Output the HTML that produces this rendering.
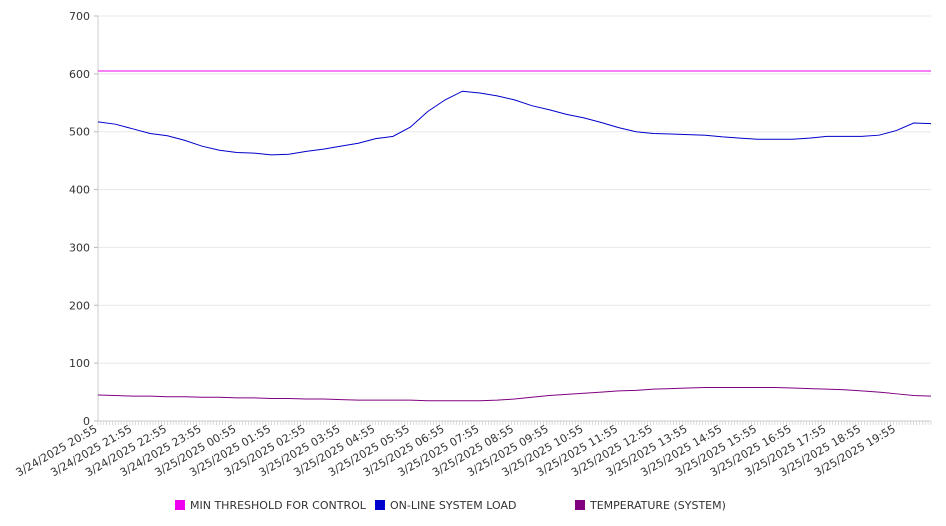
<!DOCTYPE html>
<html><head><meta charset="utf-8"><style>
html,body{margin:0;padding:0;background:#fff;width:946px;height:526px;overflow:hidden}
svg{display:block;font-family:"DejaVu Sans","Liberation Sans",sans-serif}
</style></head><body>
<svg id="chart" width="946" height="526" xmlns="http://www.w3.org/2000/svg">
<g id="grid"></g>
<g id="yaxis"></g>
<g id="xaxis"></g>
<g id="series"></g>
<g id="legend"></g>
</svg>
<script>
const xLabels = ["3/24/2025 20:55","3/24/2025 21:55","3/24/2025 22:55","3/24/2025 23:55","3/25/2025 00:55","3/25/2025 01:55","3/25/2025 02:55","3/25/2025 03:55","3/25/2025 04:55","3/25/2025 05:55","3/25/2025 06:55","3/25/2025 07:55","3/25/2025 08:55","3/25/2025 09:55","3/25/2025 10:55","3/25/2025 11:55","3/25/2025 12:55","3/25/2025 13:55","3/25/2025 14:55","3/25/2025 15:55","3/25/2025 16:55","3/25/2025 17:55","3/25/2025 18:55","3/25/2025 19:55"];
const yTicks = [0,100,200,300,400,500,600,700];
const threshold = 605;
const loadValues = [517,513,505,497,493,485,475,468,464,463,460,461,466,470,475,480,488,492,508,535,555,570,567,562,555,545,538,530,524,516,507,500,497,496,495,494,491,489,487,487,487,489,492,492,492,494,502,515,514];
const tempValues = [45,44,43,43,42,42,41,41,40,40,39,39,38,38,37,36,36,36,36,35,35,35,35,36,38,41,44,46,48,50,52,53,55,56,57,58,58,58,58,58,57,56,55,54,52,50,47,44,43];
const seriesNames = ["MIN THRESHOLD FOR CONTROL","ON-LINE SYSTEM LOAD","TEMPERATURE (SYSTEM)"];
const seriesColors = ["#ee00ee","#0000cc","#800080"];

const NS="http://www.w3.org/2000/svg";
const X0=98,X1=931,Y0=421,Y1=16,YMAX=700;
const yS=v=>Y0-(v/YMAX)*(Y0-Y1);
const hourX=h=>X0+h*(X1-X0)/24;
function mk(tag,attrs,parent){const e=document.createElementNS(NS,tag);for(const k in attrs)e.setAttribute(k,attrs[k]);parent.appendChild(e);return e;}
const grid=document.getElementById('grid'),ya=document.getElementById('yaxis'),xa=document.getElementById('xaxis'),ser=document.getElementById('series'),leg=document.getElementById('legend');

yTicks.forEach(t=>{
  const y=yS(t);
  if(t>0){const l=mk('line',{x1:X0,x2:X1,y1:y,y2:y,stroke:'#e8e8e8','stroke-width':1},grid);
  
  }
  mk('line',{x1:X0-4,x2:X0,y1:y,y2:y,stroke:'#bbb'},ya);
  const tx=mk('text',{x:90,y:y+4,'text-anchor':'end','font-size':11,fill:'#333'},ya);
  tx.textContent=t;
  
  
});
mk('line',{x1:X0,x2:X0,y1:Y1,y2:Y0,stroke:'#ccc'},ya);
mk('line',{x1:X0,x2:X1,y1:Y0,y2:Y0,stroke:'#ccc'},xa);
for(let i=0;i<=288;i++){const x=X0+i*(X1-X0)/288;mk('line',{x1:x,x2:x,y1:Y0,y2:Y0+4,stroke:'#ccc','stroke-width':0.7},xa);}
xLabels.forEach((lab,i)=>{
  const x=hourX(i),y=Y0+10;
  const tx=mk('text',{x:x,y:y,'text-anchor':'end','font-size':11,fill:'#333',transform:`rotate(-30 ${x} ${y})`},xa);
  tx.textContent=lab;
  
  
});

const th=mk('line',{x1:X0,x2:X1,y1:yS(threshold),y2:yS(threshold),stroke:seriesColors[0],'stroke-width':1},ser);


function line(vals,color,name){
  const n=vals.length-1;
  const pts=vals.map((v,i)=>`${(X0+i*(X1-X0)/n).toFixed(2)},${yS(v).toFixed(2)}`).join(' ');
  const p=mk('polyline',{points:pts,fill:'none',stroke:color,'stroke-width':1},ser);
  
  
}
line(loadValues,seriesColors[1],'online-system-load-line');
line(tempValues,seriesColors[2],'temperature-line');

const legX=[175,375,575];
seriesNames.forEach((n,i)=>{
  const g=mk('g',{},leg);
  
  
  mk('rect',{x:legX[i],y:500,width:10,height:10,fill:seriesColors[i]},g);
  const t=mk('text',{x:legX[i]+15,y:509,'font-size':11,fill:'#333'},g);
  t.textContent=n;
});
</script>
</body></html>
